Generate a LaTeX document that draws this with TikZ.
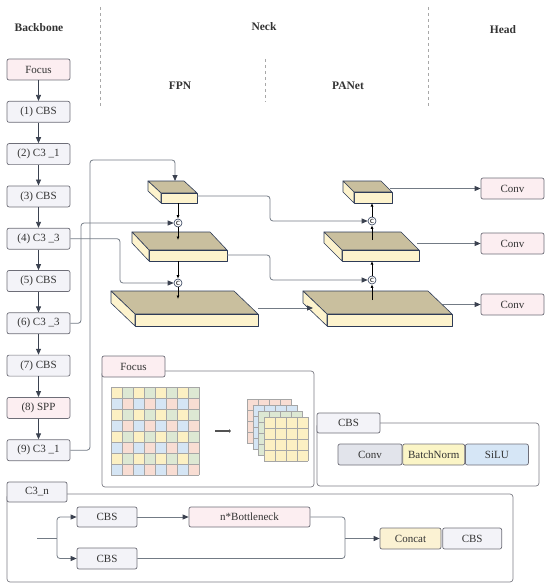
\documentclass[tikz,border=0pt]{standalone}
\usepackage{fontspec}
\setmainfont{Liberation Serif}
\usetikzlibrary{arrows.meta,calc,positioning}
\definecolor{boxline}{HTML}{6E6E78}
\definecolor{boxgray}{HTML}{F3F3F8}
\definecolor{boxpink}{HTML}{FCEEF1}
\definecolor{slabtop}{HTML}{C9BF9E}
\definecolor{slabfront}{HTML}{FDF3CD}
\definecolor{slabedge}{HTML}{2E3B57}
\definecolor{wirecol}{HTML}{737B85}
\definecolor{tipdark}{HTML}{3B4250}
\definecolor{txt}{HTML}{333333}
\definecolor{sepgray}{HTML}{A8A8A8}
\definecolor{cellY}{HTML}{FCF0C3}
\definecolor{cellG}{HTML}{DDE8D3}
\definecolor{cellB}{HTML}{D5E5F4}
\definecolor{cellP}{HTML}{F8DDD3}
\definecolor{convgray}{HTML}{E2E4EB}
\definecolor{bnyellow}{HTML}{FBF5C6}
\definecolor{silublue}{HTML}{D6E6F6}
\definecolor{concatyel}{HTML}{FBF2D3}

% one feature-map slab: front top-left (x,y), front width, depth dx, depth dy, thickness
\newcommand{\slab}[6]{%
  \filldraw[slabedge, fill=slabtop, line width=0.6pt, line join=round]
    (#1,#2) -- ++(-#4,-#5) -- ++(#3,0) -- ++(#4,#5) -- cycle;
  \filldraw[slabedge, fill=slabfront, line width=0.6pt, line join=round]
    (#1,#2) rectangle ++(#3,#6);
  \filldraw[slabedge, fill=slabfront, line width=0.6pt, line join=round]
    (#1,#2) -- ++(-#4,-#5) -- ++(0,#6) -- ++(#4,#5) -- cycle;
}

\begin{document}
\begin{tikzpicture}[x=1pt, y=-1pt,
  every node/.style={text=txt, font=\fontsize{11}{13}\selectfont},
  hdr/.style={font=\fontsize{11.5}{13}\selectfont\bfseries},
  graybox/.style={draw=boxline, line width=0.7pt, rounded corners=2pt, fill=boxgray,
    minimum width=63pt, minimum height=21pt, inner sep=0pt},
  pinkbox/.style={graybox, fill=boxpink},
  panel/.style={draw=boxline!90, line width=0.7pt, rounded corners=3pt},
  tab/.style={graybox, minimum height=20pt},
  wire/.style={wirecol, line width=0.8pt, rounded corners=3pt,
    -{Triangle[length=6pt, width=5pt, fill=tipdark, color=tipdark]}},
  bare/.style={wirecol, line width=0.8pt, rounded corners=3pt},
  chain/.style={tipdark, line width=0.8pt, -{Triangle[length=6pt, width=5pt]}},
  vflow/.style={black, line width=0.8pt, -{Latex[length=3.5pt, width=3pt]}},
  cat/.style={circle, draw=slabedge, fill=white, line width=0.6pt, inner sep=0pt,
    minimum size=8pt, font=\fontsize{6}{6}\selectfont\sffamily\bfseries},
  sep/.style={sepgray, line width=0.7pt, dash pattern=on 3pt off 3pt},
  cellline/.style={gray!70, line width=0.35pt}]

  \useasboundingbox (0,0) rectangle (550,588);

  % ---------- headers and separators ----------
  \node[hdr] (hBack) at (39,28) {Backbone};
  \node[hdr] (hNeck) at (264,27) {Neck};
  \node[hdr] (hHead) at (503,30) {Head};
  \node[hdr] (hFpn) at (180,86) {FPN};
  \node[hdr] (hPan) at (348,86) {PANet};
  \draw[sep] (100,7) -- (100,108);
  \draw[sep] (428,7) -- (428,108);
  \draw[sep] (265,59) -- (265,102);

  % ---------- backbone ----------
  \foreach \i/\lbl/\sty in {0/Focus/pinkbox, 1/(1) CBS/graybox, 2/(2) C3 \_1/graybox,
      3/(3) CBS/graybox, 4/(4) C3 \_3/graybox, 5/(5) CBS/graybox, 6/(6) C3 \_3/graybox,
      7/(7) CBS/graybox, 8/(8) SPP/pinkbox, 9/(9) C3 \_1/graybox}
    \node[\sty] (b\i) at (38.5,{69.5+42.3*\i}) {\lbl};
  \foreach \i [evaluate=\i as \j using int(\i+1)] in {0,...,8}
    \draw[chain] (b\i) -- (b\j);

  % ---------- FPN slabs ----------
  \slab{161}{193}{36}{13}{12}{10}
  \slab{149}{250}{78}{17}{18}{11}
  \slab{135}{314}{123}{24}{23}{12}
  \coordinate (fpnT-in) at (175,181);
  \coordinate (fpnT-bot) at (178,203);
  \coordinate (fpnT-out) at (197,196);
  \coordinate (fpnM-in) at (178,240);
  \coordinate (fpnM-bot) at (178,261);
  \coordinate (fpnM-out) at (227,255);
  \coordinate (fpnB-in) at (178,299);
  \coordinate (fpnB-out) at (258,308);

  % ---------- PANet slabs ----------
  \slab{354}{192}{38}{11}{11}{11}
  \slab{342}{250}{77}{18}{18}{11}
  \slab{327}{314}{125}{24}{23}{12}
  \coordinate (panT-bot) at (372,203);
  \coordinate (panT-out) at (390,188.5);
  \coordinate (panM-up) at (372,240);
  \coordinate (panM-bot) at (372,261);
  \coordinate (panM-out) at (417,243.5);
  \coordinate (panB-in) at (313,308);
  \coordinate (panB-up) at (372,300);
  \coordinate (panB-out) at (443,304.5);

  % ---------- concat points ----------
  \node[cat] (catF1) at (178,223) {C};
  \node[cat] (catF2) at (178,283) {C};
  \node[cat] (catP1) at (372,221) {C};
  \node[cat] (catP2) at (372,280) {C};

  \draw[vflow] (fpnT-bot) -- (catF1);
  \draw[vflow] (catF1) -- (fpnM-in);
  \draw[vflow] (fpnM-bot) -- (catF2);
  \draw[vflow] (catF2) -- (fpnB-in);
  \draw[vflow] (panB-up) -- (catP2);
  \draw[vflow] (catP2) -- (panM-bot);
  \draw[vflow] (panM-up) -- (catP1);
  \draw[vflow] (catP1) -- (panT-bot);

  % ---------- head ----------
  \node[pinkbox] (conv1) at (512.5,188.5) {Conv};
  \node[pinkbox] (conv2) at (512.5,243.5) {Conv};
  \node[pinkbox] (conv3) at (512.5,304.5) {Conv};
  \draw[wire] (panT-out) -- (conv1);
  \draw[wire] (panM-out) -- (conv2);
  \draw[wire] (panB-out) -- (conv3);

  % ---------- lateral connections ----------
  \coordinate (bus9) at (90,160);
  \coordinate (bus6) at (81,0);
  \coordinate (bus4) at (120,0);
  \coordinate (busP) at (270,0);
  \draw[wire] (b9.east) -| (bus9) -| (fpnT-in);
  \draw[wire] (b6.east) -| (bus6 |- catF1) -- (catF1);
  \draw[wire] (b4.east) -| (bus4 |- catF2) -- (catF2);
  \draw[wire] (fpnT-out) -| (busP |- catP1) -- (catP1);
  \draw[wire] (fpnM-out) -| (busP |- catP2) -- (catP2);
  \draw[wire] (fpnB-out) -- (panB-in);

  % ---------- Focus panel ----------
  \draw[panel] (102,371) rectangle (314,487);
  \node[tab, fill=boxpink, minimum height=21pt] (focusTab) at (133.5,366.5) {Focus};
  \foreach \r in {0,...,7}{
    \foreach \c in {0,...,7}{
      \pgfmathtruncatemacro{\k}{mod(\r,2)*2+mod(\c,2)}
      \ifcase\k \def\cc{cellY}\or \def\cc{cellG}\or \def\cc{cellB}\or \def\cc{cellP}\fi
      \fill[\cc] ({111+11*\c},{387+11*\r}) rectangle ++(11,11);
    }
  }
  \foreach \t in {0,...,8}{
    \draw[cellline] ({111+11*\t},387) -- ({111+11*\t},475);
    \draw[cellline] (111,{387+11*\t}) -- (199,{387+11*\t});
  }
  \foreach \i/\col in {0/cellP, 1/cellB, 2/cellG, 3/cellY}{
    \fill[\col] ({247+5.7*\i},{399+6*\i}) rectangle ++(44,44);
    \foreach \t in {0,...,4}{
      \draw[cellline] ({247+5.7*\i+11*\t},{399+6*\i}) -- ++(0,44);
      \draw[cellline] ({247+5.7*\i},{399+6*\i+11*\t}) -- ++(44,0);
    }
  }
  \coordinate (sliceA) at (215,431);
  \coordinate (sliceB) at (231,431);
  \draw[txt!85, line width=1.8pt, -{Latex[length=2pt, width=4pt]}] (sliceA) -- (sliceB);

  % ---------- CBS panel ----------
  \draw[panel] (317,423) rectangle (539,486);
  \node[tab] (cbsTab) at (348.5,423) {CBS};
  \node[graybox, fill=convgray, minimum width=64pt] (cbsConv) at (370,454.5) {Conv};
  \node[graybox, fill=bnyellow, minimum width=62pt, right=0pt of cbsConv] (cbsBn) {BatchNorm};
  \node[graybox, fill=silublue, minimum width=63pt, right=0pt of cbsBn] (cbsAct) {SiLU};

  % ---------- C3_n panel ----------
  \draw[panel] (7,494) rectangle (513,582);
  \node[tab, minimum width=60pt] (c3Tab) at (37,492) {C3\_n};
  \node[graybox, minimum width=60pt, minimum height=20pt] (c3cbs1) at (107,517) {CBS};
  \node[graybox, minimum width=60pt] (c3cbs2) at (107,558.5) {CBS};
  \node[pinkbox, minimum width=121pt, minimum height=20pt] (c3bott) at (249.5,517) {n*Bottleneck};
  \node[graybox, fill=concatyel, minimum width=61pt] (c3concat) at (410.5,538.5) {Concat};
  \node[graybox, minimum width=59pt, right=1pt of c3concat] (c3cbs3) {CBS};
  \coordinate (c3in) at (37,538.5);
  \coordinate (c3split) at (57,538.5);
  \coordinate (c3merge) at (345,538.5);
  \draw[bare] (c3in) -- (c3split);
  \draw[wire] (c3split) |- (c3cbs1);
  \draw[wire] (c3split) |- (c3cbs2);
  \draw[wire] (c3cbs1) -- (c3bott);
  \draw[bare] (c3bott.east) -| (c3merge);
  \draw[bare] (c3cbs2.east) -| (c3merge);
  \draw[wire] (c3merge) -- (c3concat);
\end{tikzpicture}
\end{document}
